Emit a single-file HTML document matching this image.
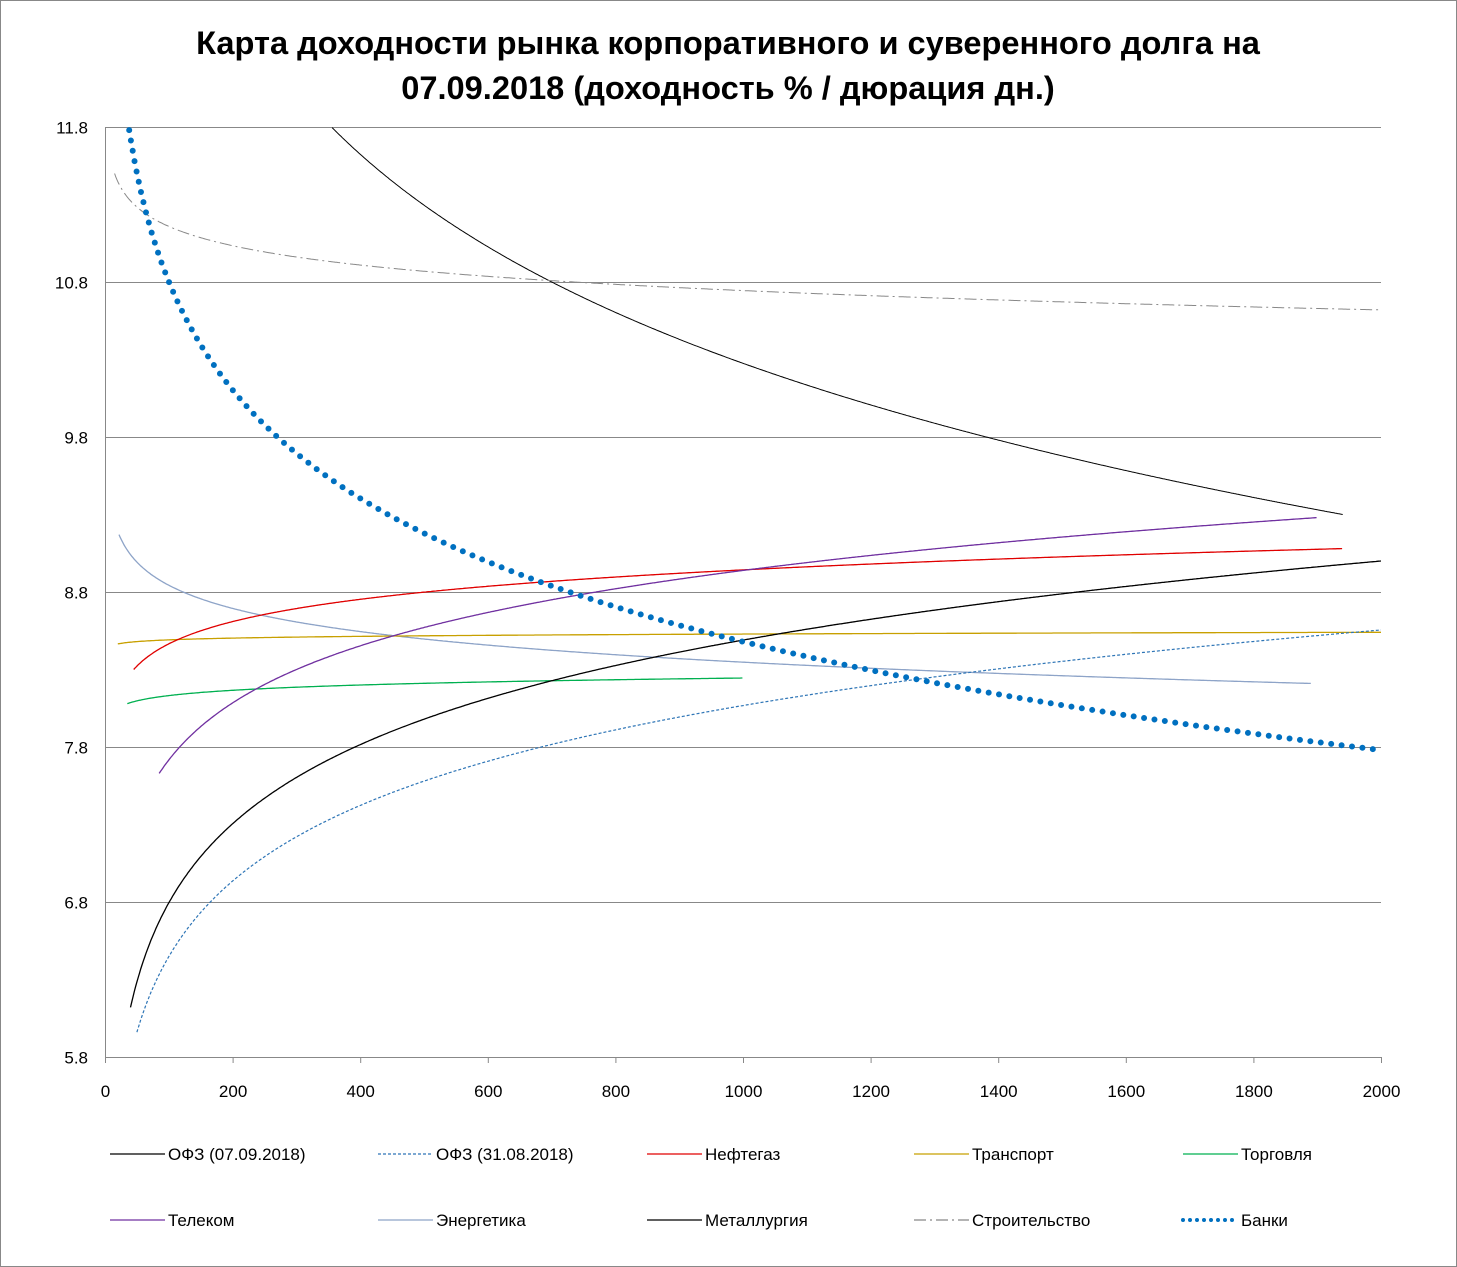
<!DOCTYPE html>
<html><head><meta charset="utf-8"><style>
html,body{margin:0;padding:0;background:#fff}
svg{display:block;font-family:"Liberation Sans",sans-serif}
</style></head><body>
<svg id="s" width="1457" height="1267" xmlns="http://www.w3.org/2000/svg">
<rect x="0.5" y="0.5" width="1456" height="1266" fill="#fff" stroke="#888"/>
<text x="728" y="54" text-anchor="middle" font-size="32.6" font-weight="bold">Карта доходности рынка корпоративного и суверенного долга на</text>
<text x="728" y="99" text-anchor="middle" font-size="32.6" font-weight="bold">07.09.2018 (доходность % / дюрация дн.)</text>
<g id="grid" stroke="#888" stroke-width="1"></g>
<g id="lab" font-size="17" fill="#000"></g>
<g id="curves" fill="none"></g>
<g id="leg" font-size="17"></g>
</svg>
<script>
var X0=105,X1=1381,Y0=1057,S=155;
function px(x){return X0+x*(X1-X0)/2000}
function py(v){return Y0-(v-5.8)*S}
var g=document.getElementById('grid'),lab=document.getElementById('lab'),ns='http://www.w3.org/2000/svg';
function el(p,t,a,txt){var e=document.createElementNS(ns,t);for(var k in a)e.setAttribute(k,a[k]);if(txt!==undefined&&txt!==null)e.textContent=String(txt);p.appendChild(e);return e}
for(var i=0;i<7;i++){var v=5.8+i,y=py(v)+0.5;el(g,'line',{x1:X0,x2:X1,y1:y,y2:y});el(lab,'text',{x:88,y:y+6,'text-anchor':'end'},v.toFixed(1))}
el(g,'line',{x1:X0+0.5,x2:X0+0.5,y1:py(11.8),y2:Y0+6});
for(var t=0;t<=2000;t+=200){var x=px(t)+0.5;el(g,'line',{x1:x,x2:x,y1:Y0,y2:Y0+6});el(lab,'text',{x:x,y:1097,'text-anchor':'middle'},String(t))}
var C=document.getElementById('curves');
function curve(x0,y0,x1,y1,xa,xb,style){
 var b=(y1-y0)/Math.log(x1/x0),a=y0-b*Math.log(x0),d='';
 for(var x=xa;x<=xb;x+=2){var v=a+b*Math.log(x);if(v>11.8)continue;d+=(d?'L':'M')+px(x).toFixed(1)+','+py(v).toFixed(1)}
 el(C,'path',Object.assign({d:d},style));}
curve(355,11.8,1940,9.30,300,1940,{stroke:'#000','stroke-width':1});
curve(15,11.5,2000,10.62,15,2000,{stroke:'#888','stroke-width':1,'stroke-dasharray':'12 4 2 4'});
curve(22,9.17,1890,8.21,22,1890,{stroke:'#8EA4C8','stroke-width':1.3});
curve(20,8.465,2000,8.54,20,2000,{stroke:'#C8A000','stroke-width':1.3});
curve(35,8.08,1000,8.245,35,1000,{stroke:'#00B050','stroke-width':1.3});
curve(45,8.30,1940,9.08,45,1940,{stroke:'#E00000','stroke-width':1.3});
curve(85,7.63,1900,9.28,85,1900,{stroke:'#7030A0','stroke-width':1.3});
curve(50,5.96,2000,8.555,50,2000,{stroke:'#2E75B6','stroke-width':1.2,'stroke-dasharray':'3 2'});
curve(40,6.12,2000,9.0,40,2000,{stroke:'#000','stroke-width':1.3});
curve(38,11.78,2000,7.78,38,2000,{stroke:'#0070C0','stroke-width':6,'stroke-linecap':'round','stroke-dasharray':'0 10.5'});
var L=document.getElementById('leg');
var items=[['ОФЗ (07.09.2018)',{stroke:'#000'}],['ОФЗ (31.08.2018)',{stroke:'#2E75B6','stroke-dasharray':'3 2'}],['Нефтегаз',{stroke:'#E00000'}],['Транспорт',{stroke:'#C8A000'}],['Торговля',{stroke:'#00B050'}],
['Телеком',{stroke:'#7030A0'}],['Энергетика',{stroke:'#8EA4C8'}],['Металлургия',{stroke:'#000'}],['Строительство',{stroke:'#888','stroke-dasharray':'12 4 2 4'}],['Банки',{stroke:'#0070C0','stroke-width':4,'stroke-linecap':'round','stroke-dasharray':'0 7'}]];
var cols=[110,378,647,914,1183];
items.forEach(function(it,i){var x=cols[i%5],y=i<5?1154:1220;var st=Object.assign({x1:x,x2:x+55,y1:y,y2:y,'stroke-width':1.3},it[1]);el(L,'line',st);el(L,'text',{x:x+58,y:y+6},it[0])});
</script>
</body></html>
